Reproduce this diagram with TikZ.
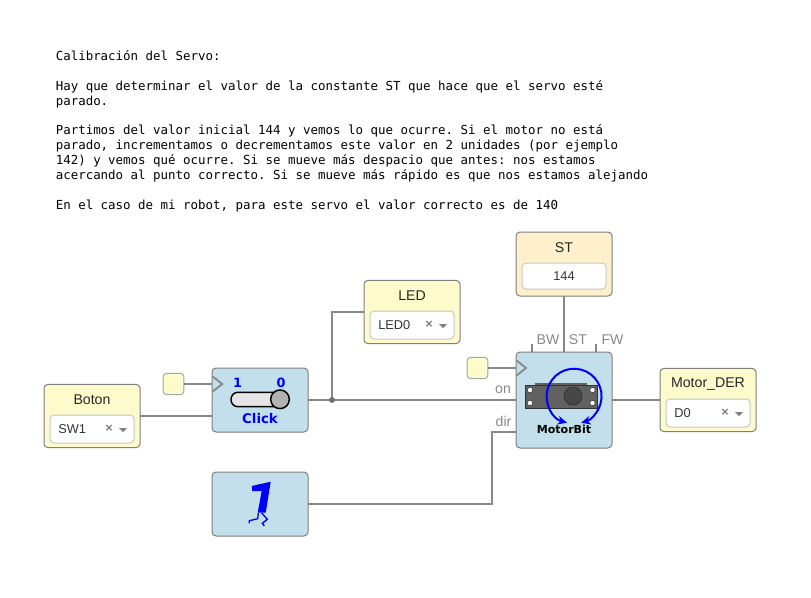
\documentclass[tikz,border=0pt]{standalone}
\usepackage{fontspec}
\setmainfont{Liberation Sans}
\newfontfamily\monofnt{DejaVu Sans Mono}
\newfontfamily\dejafnt{DejaVu Sans}
\usetikzlibrary{arrows.meta,positioning}
\definecolor{blockblue}{HTML}{C2DFEB}
\definecolor{paramyellow}{HTML}{FDFBCB}
\definecolor{constorange}{HTML}{FDF0CB}
\definecolor{wiregray}{HTML}{888888}
\definecolor{edgegray}{HTML}{7F7F7F}
\definecolor{labelgray}{HTML}{8A8A8A}
\definecolor{selecttxt}{HTML}{333333}
\tikzset{
  block/.style={draw=edgegray,fill=blockblue,rounded corners=3pt,line width=0.75pt,
    minimum width=72pt,minimum height=48pt,inner sep=0pt,outer sep=0pt},
  param/.style={block,fill=paramyellow,minimum height=47.5pt},
  field/.style={draw=black!22,fill=white,rounded corners=3pt,line width=0.75pt,
    minimum width=63pt,minimum height=21pt,inner sep=0pt,outer sep=0pt},
  clocksq/.style={draw=black!35,fill=paramyellow,rounded corners=2.5pt,line width=0.75pt,
    minimum width=15.5pt,minimum height=16pt,inner sep=0pt,outer sep=0pt},
  wire/.style={draw=wiregray,line width=1.4pt},
  title/.style={font=\fontsize{10.6}{12}\selectfont,text=black!85},
  pinlabel/.style={font=\fontsize{10.6}{12}\selectfont,text=labelgray},
  iconbold/.style={font=\dejafnt\bfseries\fontsize{9.6}{11}\selectfont,text=blue},
}
\begin{document}
\frenchspacing
\begin{tikzpicture}[x=0.75pt,y=-0.75pt,>=Stealth]
 \useasboundingbox[fill=white] (0,0) rectangle (811,597);
 \node[anchor=north west,inner sep=0pt,align=left,
   font=\monofnt\fontsize{9.34}{11.2}\selectfont] (descr) at (55.5,50) {%
   Calibración del Servo:\\[11.2pt]
   Hay que determinar el valor de la constante ST que hace que el servo esté\\
   parado.\\[11.2pt]
   Partimos del valor inicial 144 y vemos lo que ocurre. Si el motor no está\\
   parado, incrementamos o decrementamos este valor en 2 unidades (por ejemplo\\
   142) y vemos qué ocurre. Si se mueve más despacio que antes: nos estamos\\
   acercando al punto correcto. Si se mueve más rápido es que nos estamos alejando\\[11.2pt]
   En el caso de mi robot, para este servo el valor correcto es de 140};
 % blocks
 \foreach \nm/\lbl/\val/\x/\y in {boton/Boton/SW1/92/416,led/LED/LED0/412/312,motorder/Motor\_DER/D0/708/400}{
   \node[param] (\nm) at (\x,\y) {};
   \node[title] (\nm title) at (\x,\y-16) {\lbl};
   \node[field] (\nm field) at (\x,\y+13) {};
   \node[anchor=west,inner sep=0pt,text=selecttxt,font=\fontsize{9.6}{11}\selectfont] (\nm val) at (\x-34,\y+13) {\val};
   \node[inner sep=0pt,text=black!55,font=\dejafnt\bfseries\fontsize{8}{9}\selectfont] (\nm x) at (\x+17,\y+12.5) {×};
   \fill[black!50] (\x+27,\y+12) -- (\x+35,\y+12) -- (\x+31,\y+16) -- cycle;
 }
 \node[block,fill=constorange,minimum height=48pt] (st) at (564,264) {};
 \node[title] (sttitle) at (564,248) {ST};
 \node[field,minimum height=19.5pt] (stfield) at (564,276) {};
 \node[text=selecttxt,inner sep=0pt,font=\fontsize{9.6}{11}\selectfont] (stval) at (564,276) {144};
 \node[block] (click) at (260,400) {};
 \node[block] (number) at (260,504) {};
 \node[block,minimum height=72pt] (motor) at (564,400) {};
 \node[clocksq] (clicksq) at (173.5,384) {};
 \node[clocksq] (motorsq) at (477.5,368) {};
 % wires
 \coordinate (clickin) at (212,384);
 \coordinate (motorin) at (516,368);
 \coordinate (dirbend) at (492,432);
 \coordinate (dirin) at (516,432);
 \coordinate (bwstub) at (532,344);
 \coordinate (bwin) at (532,352);
 \coordinate (fwstub) at (596,344);
 \coordinate (fwin) at (596,352);
 \coordinate (branch) at (332,400);
 \draw[wire] (clicksq.east) -- (clickin);
 \draw[wire] (motorsq.east) -- (motorin);
 \draw[wire] (boton.east) -- (click.west|-boton.east);
 \draw[wire] (click.east) -- (motor.west);
 \draw[wire] (branch) |- (led.west);
 \fill[wiregray!80!black] (branch) circle (2.2pt);
 \draw[wire] (st.south) -- (motor.north);
 \draw[wire] (number.east) -| (dirbend) -- (dirin);
 \draw[wire] (motor.east) -- (motorder.west);
 \draw[wire,line width=0.9pt] (bwstub) -- (bwin);
 \draw[wire,line width=0.9pt] (fwstub) -- (fwin);
 \node[pinlabel] (bwlabel) at (548,340) {BW};
 \node[pinlabel] (stlabel) at (578,340) {ST};
 \node[pinlabel] (fwlabel) at (612.5,340) {FW};
 \node[pinlabel] (onlabel) at (503,390) {on};
 \node[pinlabel] (dirlabel) at (503.5,421) {dir};
 % clock marks
 \draw[wire,line join=miter] (212.7,376.5) -- (222.3,384) -- (212.7,391.5);
 \draw[wire,line join=miter] (516.7,360.5) -- (526,368) -- (516.7,375.5);
 % toggle icon
 \node[iconbold] (one) at (237.7,382.7) {1};
 \node[iconbold] (zero) at (281,382.7) {0};
 \node[iconbold,font=\dejafnt\bfseries\fontsize{10}{12}\selectfont] (clicktxt) at (260,418.5) {Click};
 \draw[fill=black!10,line width=1.1pt,rounded corners=5.2pt] (231,392.3) rectangle (287,406.7);
 \draw[fill=black!30,line width=1.1pt] (280,399.3) circle (7pt);
 % number icon
 \fill[blue] (251.7,486) -- (270.7,481.7) -- (265.7,512.7) -- (257.7,512.7) -- (261.7,491) -- (252.3,491) -- cycle;
 \draw[blue,line width=1pt] (258.3,513) -- (257.7,518.7) -- (249.3,520.7) -- (249.3,523.3);
 \draw[blue,line width=1pt] (261.7,513) -- (267.3,519.3) -- (262.3,523.3) -- (264.3,526);
 % servo icon
 \fill[black!62] (525,385) rectangle (597,408);
 \fill[black!62] (535,383) rectangle (587,409);
 \draw[black!80,line width=0.5pt] (525,385) rectangle (597,408);
 \draw[black!80,fill=black!72,line width=0.5pt] (573,396) circle (6.8pt);
 \foreach \hx/\hy in {530/390,530/403,592.5/390,592.5/403}
   \draw[black!80,fill=white,line width=0.4pt] (\hx,\hy) circle (2pt);
 \draw[blue,line width=1.5pt,{Stealth[length=7pt,width=6.5pt]}-{Stealth[length=7pt,width=6.5pt]}] (567,422.7) arc (-105:-435:20.6pt);
 \node[font=\dejafnt\bfseries\fontsize{8.3}{10}\selectfont] (motortxt) at (564,429) {MotorBit};
\end{tikzpicture}
\end{document}
